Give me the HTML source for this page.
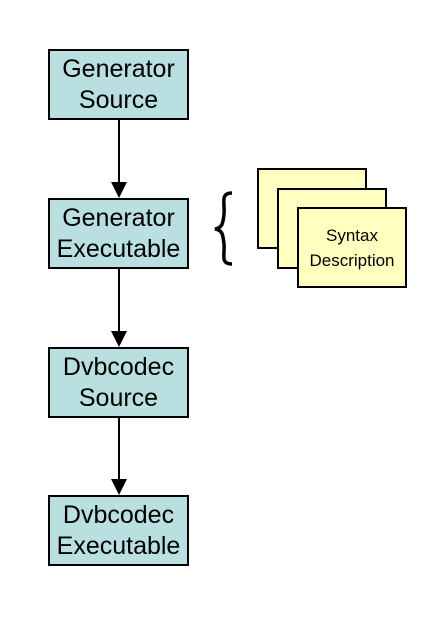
<!DOCTYPE html>
<html><head><style>
body{margin:0;width:436px;height:617px;background:#fff;position:relative;overflow:hidden;font-family:"Liberation Sans",sans-serif}
.b{position:absolute;left:48px;width:137px;height:67px;background:#b9dfe0;border:2px solid #000;box-sizing:content-box;display:flex;align-items:center;justify-content:center;text-align:center;font-size:25px;line-height:31px;color:#000;white-space:nowrap}
.y{position:absolute;width:106px;height:77px;background:#ffffc0;border:2px solid #000;}
</style></head><body>
<div class="b" style="top:49px">Generator<br>Source</div>
<div class="b" style="top:198px">Generator<br>Executable</div>
<div class="b" style="top:347px">Dvbcodec<br>Source</div>
<div class="b" style="top:495px">Dvbcodec<br>Executable</div>
<svg width="436" height="617" style="position:absolute;left:0;top:0">
<g stroke="#000" stroke-width="2">
<line x1="119" y1="120" x2="119" y2="184"/>
<line x1="119" y1="269" x2="119" y2="332"/>
<line x1="119" y1="418" x2="119" y2="480"/>
</g>
<g fill="#000">
<polygon points="111,182 127,182 119,198"/>
<polygon points="111,331 127,331 119,347"/>
<polygon points="111,479 127,479 119,495"/>
</g>
<path d="M232,193 C220,193 225,203 224,214 C223,224 222,228 215,229 C222,230 223,234 224,244 C225,255 220,264 232,264" fill="none" stroke="#000" stroke-width="3.5"/>
</svg>
<div class="y" style="left:257px;top:168px"></div>
<div class="y" style="left:277px;top:188px"></div>
<div class="y" style="left:297px;top:207px;display:flex;align-items:center;justify-content:center;text-align:center;font-size:17px;line-height:25px;white-space:nowrap">Syntax<br>Description</div>
</body></html>
